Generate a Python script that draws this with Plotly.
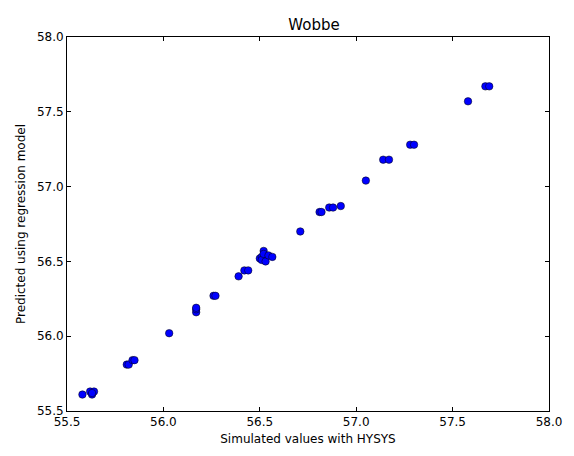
import plotly.graph_objects as go

simulated = [55.58, 55.62, 55.63, 55.64, 55.63,
             55.81, 55.82, 55.84, 55.85,
             56.03,
             56.17, 56.17, 56.17,
             56.26, 56.27,
             56.39, 56.42, 56.44,
             56.50, 56.51, 56.51, 56.52, 56.52, 56.53, 56.545, 56.565,
             56.71,
             56.81, 56.82, 56.86, 56.88, 56.92,
             57.05,
             57.14, 57.17,
             57.28, 57.30,
             57.58,
             57.67, 57.69]
predicted = [55.61, 55.63, 55.61, 55.63, 55.62,
             55.81, 55.81, 55.84, 55.84,
             56.02,
             56.16, 56.18, 56.19,
             56.27, 56.27,
             56.40, 56.44, 56.44,
             56.52, 56.53, 56.51, 56.57, 56.55, 56.50, 56.54, 56.53,
             56.70,
             56.83, 56.83, 56.86, 56.86, 56.87,
             57.04,
             57.18, 57.18,
             57.28, 57.28,
             57.57,
             57.67, 57.67]

tick_vals = [55.5, 56.0, 56.5, 57.0, 57.5, 58.0]
tick_text = ["55.5", "56.0", "56.5", "57.0", "57.5", "58.0"]

fig = go.Figure(go.Scatter(
    x=simulated, y=predicted, mode="markers",
    marker=dict(color="#0000ff", size=7.5, line=dict(color="#000000", width=0.5)),
))

axis_common = dict(
    showline=True, linecolor="black", linewidth=1, mirror="ticks",
    ticks="inside", ticklen=4, tickcolor="black",
    showgrid=False, zeroline=False,
    tickvals=tick_vals, ticktext=tick_text,
    ticklabeloverflow="allow",
    tickfont=dict(family="DejaVu Sans", size=12, color="black"),
)

fig.update_layout(
    width=574, height=456,
    margin=dict(l=67, r=13, t=37, b=37),
    paper_bgcolor="white", plot_bgcolor="white",
    showlegend=False,
    title=dict(text="Wobbe", x=(67 + 561) / 2 / 574, xanchor="center",
               y=1 - 25 / 456, yanchor="middle",
               font=dict(family="DejaVu Sans", size=15, color="black")),
    xaxis=dict(range=[55.5, 58.0], title=dict(text="Simulated values with HYSYS", standoff=6,
               font=dict(family="DejaVu Sans", size=12, color="black")), **axis_common),
    yaxis=dict(range=[55.5, 58.0], title=dict(text="Predicted using regression model", standoff=8,
               font=dict(family="DejaVu Sans", size=12, color="black")), **axis_common),
)

fig.write_html("out.html")
